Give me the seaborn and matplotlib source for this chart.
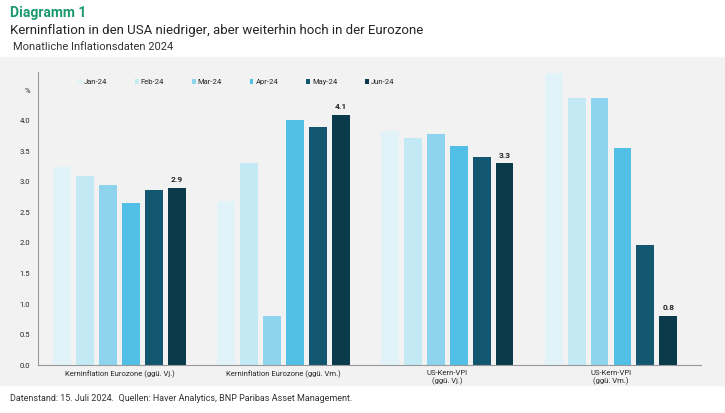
import pandas as pd
import numpy as np
import matplotlib.pyplot as plt
import seaborn as sns

groups = ["Kerninflation Eurozone (ggü. Vj.)", "Kerninflation Eurozone (ggü. Vm.)",
          "US-Kern-VPI\n(ggü. Vj.)", "US-Kern-VPI\n(ggü. Vm.)"]
months = ["Jan-24", "Feb-24", "Mar-24", "Apr-24", "May-24", "Jun-24"]
jan = [3.25, 2.68, 3.84, 4.78]
feb = [3.10, 3.30, 3.72, 4.38]
mar = [2.95, 0.80, 3.78, 4.38]
apr = [2.65, 4.02, 3.58, 3.55]
may = [2.87, 3.90, 3.40, 1.96]
jun = [2.90, 4.10, 3.30, 0.80]
colors = ["#e1f3f9", "#c3e9f5", "#8fd4ee", "#52bfe6", "#13566f", "#0b3a4a"]

rows = []
for m, vals in zip(months, [jan, feb, mar, apr, may, jun]):
    for g, v in zip(groups, vals):
        rows.append({"group": g, "month": m, "value": v})
df = pd.DataFrame(rows)

sns.set_style("white")
plt.rcParams['font.family'] = ['Roboto', 'DejaVu Sans']
fig = plt.figure(figsize=(7.25, 4.13), dpi=100)
# grey panel behind the chart
fig.patches.append(plt.Rectangle((0, 0.068), 1, 0.795, transform=fig.transFigure,
                                 color="#f2f2f2", zorder=-1))
ax = fig.add_axes([0.052, 0.116, 0.915, 0.71])
ax.set_facecolor("#f2f2f2")
sns.barplot(data=df, x="group", y="value", hue="month", palette=colors,
            saturation=1, width=0.84, gap=0.22, ax=ax, legend=True, edgecolor="none")
ax.set_ylim(0, 4.8)
ax.set_xlim(-0.5, 3.55)
ax.set_yticks([0, 0.5, 1, 1.5, 2, 2.5, 3, 3.5, 4, 4.5])
ax.set_yticklabels(["0.0", "0.5", "1.0", "1.5", "2.0", "2.5", "3.0", "3.5", "4.0", "%"], fontsize=5.5)
ax.tick_params(axis="x", labelsize=5.5, length=0)
ax.tick_params(axis="y", length=2)
ax.set_xlabel("")
ax.set_ylabel("")
for s in ["top", "right"]:
    ax.spines[s].set_visible(False)
ax.spines["left"].set_color("#999999")
ax.spines["bottom"].set_color("#999999")

# labels for the last month
last = ax.containers[-1]
for bar, v in zip(last, jun):
    ax.text(bar.get_x() + bar.get_width() / 2, v + 0.08, f"{v:.1f}",
            ha="center", va="bottom", fontsize=6, fontweight="bold")

ax.legend(loc="upper left", bbox_to_anchor=(0.05, 1.0), ncol=6, frameon=False,
          fontsize=5.5, handlelength=0.5, handleheight=0.6, columnspacing=3.6,
          handletextpad=0.3)

fig.text(0.014, 0.96, "Diagramm 1", fontsize=10, fontweight="bold", color="#1a9a6c")
fig.text(0.014, 0.918, "Kerninflation in den USA niedriger, aber weiterhin hoch in der Eurozone",
         fontsize=9.5)
fig.text(0.018, 0.88, "Monatliche Inflationsdaten 2024", fontsize=8, color="#333333")
fig.text(0.014, 0.03, "Datenstand: 15. Juli 2024.  Quellen: Haver Analytics, BNP Paribas Asset Management.",
         fontsize=6.5, color="#333333")
fig.savefig("out.png", dpi=100)
